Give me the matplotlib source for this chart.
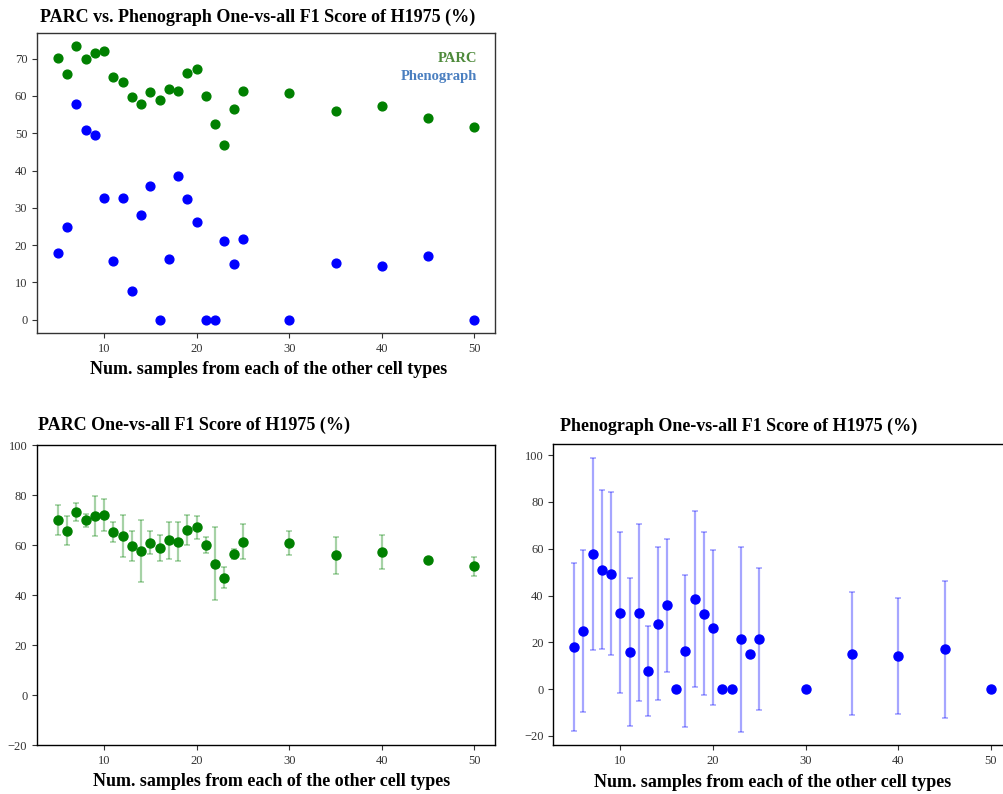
import matplotlib
matplotlib.use("Agg")
import matplotlib.pyplot as plt

plt.rcParams['font.family'] = ['Liberation Serif', 'DejaVu Serif']

# ---- data ----
samples = [5, 6, 7, 8, 9, 10, 11, 12, 13, 14, 15, 16, 17, 18, 19, 20,
           21, 22, 23, 24, 25, 30, 35, 40, 45, 50]
parc_f1 = [70.2, 65.8, 73.3, 69.9, 71.6, 72.0, 65.2, 63.7, 59.8, 57.8, 61.0, 58.9, 61.9,
           61.4, 66.2, 67.1, 60.0, 52.6, 46.9, 56.4, 61.4, 60.8, 56.0, 57.2, 54.0, 51.6]
parc_std = [6.0, 5.8, 3.5, 2.7, 8.0, 6.5, 4.0, 8.3, 6.0, 12.4, 4.5, 5.2, 7.5,
            7.9, 6.0, 4.6, 3.2, 14.5, 4.2, 2.0, 7.1, 4.9, 7.4, 6.7, 0.0, 3.8]
pheno_f1 = [18.0, 24.9, 57.8, 51.0, 49.4, 32.7, 15.8, 32.7, 7.8, 28.0, 35.8, 0.0, 16.2,
            38.6, 32.3, 26.3, 0.0, 0.0, 21.2, 14.9, 21.5, 0.0, 15.2, 14.3, 17.0, 0.0]
pheno_std = [36.0, 34.5, 41.0, 34.0, 35.0, 34.3, 31.6, 37.9, 19.3, 32.7, 28.5, 0.0, 32.6,
             37.6, 34.9, 33.3, 0.0, 0.0, 39.4, 0.0, 30.3, 0.0, 26.4, 24.8, 29.4, 0.0]

title_top = "PARC vs. Phenograph One-vs-all F1 Score of H1975 (%)"
title_parc = "PARC One-vs-all F1 Score of H1975 (%)"
title_pheno = "Phenograph One-vs-all F1 Score of H1975 (%)"
xlabel = "Num. samples from each of the other cell types"
xticks = [10, 20, 30, 40, 50]
yticks_top = [0, 10, 20, 30, 40, 50, 60, 70]
yticks_bottom = [-20, 0, 20, 40, 60, 80, 100]

W, H = 1004, 794
fig = plt.figure(figsize=(W / 100, H / 100), dpi=100)


def px_axes(x0, y0, x1, y1):
    return fig.add_axes([x0 / W, 1 - y1 / H, (x1 - x0) / W, (y1 - y0) / H])


def style(ax, spine_color):
    for s in ax.spines.values():
        s.set_color(spine_color)
        s.set_linewidth(1.0)
    ax.tick_params(labelsize=9, colors='#333333', length=3.5, width=0.8)
    ax.set_xticks(xticks)


tfs = 13
lfs = 13

# ---- top: scatter comparison ----
ax1 = px_axes(37, 32.7, 495.3, 333.3)
ax1.scatter(samples, parc_f1, color='green', s=40, zorder=3)
ax1.scatter(samples, pheno_f1, color='blue', s=40, zorder=3)
style(ax1, '#333333')
ax1.set_yticks(yticks_top)
ax1.text(0.96, 0.915, "PARC", transform=ax1.transAxes, ha='right', va='center',
         color='#4e8a3b', fontsize=10.5, fontweight='bold')
ax1.text(0.96, 0.855, "Phenograph", transform=ax1.transAxes, ha='right', va='center',
         color='#4a7fc0', fontsize=10.5, fontweight='bold')
fig.text(40 / W, 1 - 17 / H, title_top, ha='left', va='center',
         fontsize=tfs, fontweight='bold')
fig.text(269 / W, 1 - 370 / H, xlabel, ha='center', va='center',
         fontsize=lfs, fontweight='bold')

# ---- bottom-left: PARC with error bars ----
ax2 = px_axes(37, 445, 495.3, 745.3)
eb = ax2.errorbar(samples, parc_f1, yerr=parc_std, fmt='o', color='green',
                  markersize=6.5, ecolor=(0.0, 0.5, 0.0, 0.35), elinewidth=1.6,
                  capsize=2.5, capthick=1.2, zorder=3)
for c in eb[1]:
    c.set_color((0.1, 0.45, 0.1, 0.8))
ax2.set_ylim(-20, 100)
style(ax2, 'black')
ax2.set_yticks(yticks_bottom)
fig.text(38 / W, 1 - 425 / H, title_parc, ha='left', va='center',
         fontsize=tfs, fontweight='bold')
fig.text(271.7 / W, 1 - 782 / H, xlabel, ha='center', va='center',
         fontsize=lfs, fontweight='bold')

# ---- bottom-right: Phenograph with error bars ----
ax3 = px_axes(553.3, 444.3, 1011.8, 745.3)
eb = ax3.errorbar(samples, pheno_f1, yerr=pheno_std, fmt='o', color='blue',
                  markersize=6.5, ecolor=(0.0, 0.0, 1.0, 0.35), elinewidth=1.6,
                  capsize=2.5, capthick=1.2, zorder=3)
for c in eb[1]:
    c.set_color((0.15, 0.15, 0.8, 0.85))
style(ax3, 'black')
ax3.set_yticks(yticks_bottom)
fig.text(560 / W, 1 - 426.7 / H, title_pheno, ha='left', va='center',
         fontsize=tfs, fontweight='bold')
fig.text(773 / W, 1 - 782.7 / H, xlabel, ha='center', va='center',
         fontsize=lfs, fontweight='bold')

fig.savefig("out.png", dpi=100)
